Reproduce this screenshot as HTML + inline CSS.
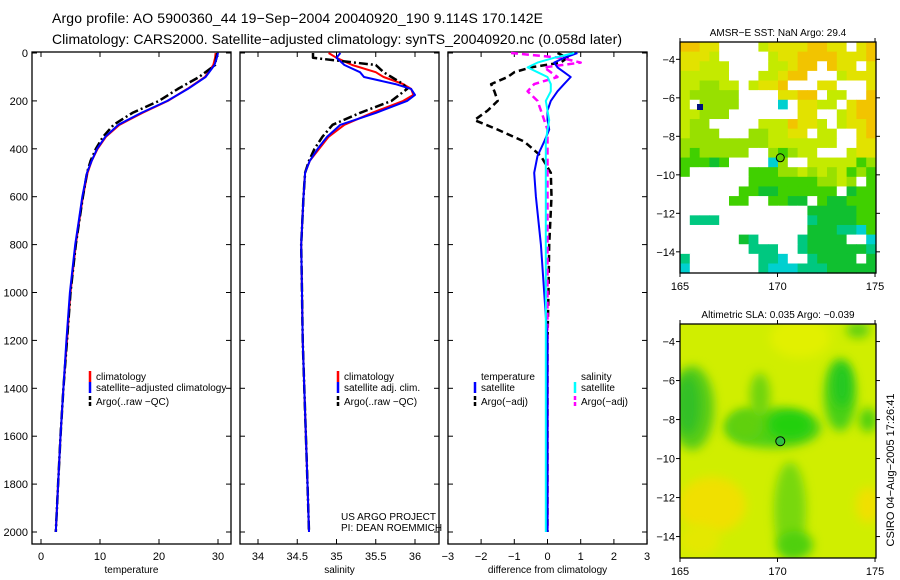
<!DOCTYPE html>
<html><head><meta charset="utf-8">
<style>
body{margin:0;background:#fff;}
svg{display:block;font-family:"Liberation Sans",sans-serif;}
</style></head>
<body>
<svg id="fig" width="900" height="580" viewBox="0 0 900 580" xmlns="http://www.w3.org/2000/svg">
<defs><filter id="bl" x="-50%" y="-50%" width="200%" height="200%"><feGaussianBlur stdDeviation="5"/></filter>
<clipPath id="m2c"><rect x="680" y="324" width="196" height="234"/></clipPath></defs>
<text x="52" y="23" font-size="14" textLength="491">Argo profile: AO 5900360_44 19−Sep−2004 20040920_190 9.114S 170.142E</text>
<text x="52" y="44" font-size="14" textLength="570">Climatology: CARS2000. Satellite−adjusted climatology: synTS_20040920.nc (0.058d later)</text>
<g id="plots"></g>
<g id="map1"></g>
<g id="map2"></g>
<text transform="translate(894,470) rotate(-90)" font-size="11" text-anchor="middle">CSIRO 04−Aug−2005 17:26:41</text>
</svg>
<script>
const depthT = [0,20,50,100,150,200,250,300,350,400,450,500,600,700,800,1000,1200,1400,1600,1800,2000];
const tempClim = [29.6,29.5,29.2,27.8,24.8,21.5,17.2,13.3,11,9.6,8.6,7.9,7.1,6.5,5.9,5.0,4.4,3.8,3.3,2.9,2.5];
const tempSat  = [30,29.8,29.4,27.9,24.9,21.4,17,13.1,10.9,9.5,8.6,7.8,7.0,6.4,5.8,4.9,4.3,3.8,3.3,2.9,2.5];
const tempArgo = [29.9,29.7,29.5,26.8,23.2,20,15.5,12.3,10.5,9.3,8.4,7.8,7.1,6.5,5.9,5.0,4.4,3.8,3.3,2.9,2.5];
const depthS = [0,20,50,80,100,130,150,175,200,250,300,350,400,450,500,600,800,1000,1200,1400,1600,1800,2000];
const salClim = [34.9,35.0,35.2,35.5,35.6,35.85,35.95,35.98,35.85,35.45,35.1,34.9,34.78,34.66,34.6,34.58,34.55,34.56,34.57,34.59,34.61,34.63,34.65];
const salSat  = [35.05,35.0,35.1,35.3,35.35,35.75,35.95,36.0,35.9,35.5,35.05,34.88,34.76,34.66,34.6,34.58,34.55,34.56,34.57,34.59,34.61,34.63,34.65];
const salArgo = [34.7,34.7,35.5,35.6,35.7,35.85,35.9,35.8,35.7,35.3,34.95,34.82,34.72,34.65,34.6,34.58,34.55,34.56,34.57,34.59,34.61,34.63,34.65];
const depthD = [0,20,40,60,80,100,130,160,200,240,280,320,370,430,500,600,800,1000,1200,1500,2000];
const diffTArgo = [0.3,0.6,0.4,-0.5,-1.0,-1.2,-1.7,-1.6,-1.5,-1.8,-2.2,-1.5,-0.7,-0.2,0.1,0.12,0.05,0.03,0.0,0.0,0.0];
const diffTSat  = [0.9,0.5,0.2,0.3,0.5,0.7,0.5,0.3,0.1,0.0,0.0,0.05,-0.1,-0.3,-0.4,-0.35,-0.2,-0.1,0.0,0.0,0.0];
const diffSSat  = [0.8,0.2,-0.3,-0.6,-0.3,0.0,0.1,0.1,-0.05,0.0,0.05,0.0,-0.05,-0.05,-0.05,-0.05,-0.05,-0.05,-0.05,-0.05,-0.05];
const diffSArgo = [-1.1,0.4,1.0,-0.1,0.1,0.3,-0.4,-0.6,-0.3,-0.2,-0.1,0.0,0.0,0.0,0.0,0.0,0.0,0.0,0.0,0.0,0.0];
const depthTicks = [0,200,400,600,800,1000,1200,1400,1600,1800,2000];
const tempTicks = [0,10,20,30];
const salTicks = [34,34.5,35,35.5,36];
const diffTicks = [-3,-2,-1,0,1,2,3];
const latTicks = [-4,-6,-8,-10,-12,-14];
const lonTicks = [165,170,175];

const NS="http://www.w3.org/2000/svg";
const plots=document.getElementById('plots');
function mk(tag,at,parent){const e=document.createElementNS(NS,tag);for(const k in at)e.setAttribute(k,at[k]);(parent||plots).appendChild(e);return e;}
const yD=d=>53+d*0.2395;
const panels=[
 {x0:32,x1:231,f:v=>41+v*5.9,ticks:tempTicks,title:'temperature',name:'temperature-panel'},
 {x0:240,x1:439,f:v=>258+(v-34)*78.5,ticks:salTicks,title:'salinity',name:'salinity-panel'},
 {x0:448,x1:647,f:v=>547.5+v*33.2,ticks:diffTicks,title:'difference from climatology',name:'difference-panel'}];
const yTop=52,yBot=544;
panels.forEach((p,i)=>{
 const g=mk('g',{});
 
 
 mk('rect',{x:p.x0,y:yTop,width:p.x1-p.x0,height:yBot-yTop,fill:'none',stroke:'#000','stroke-width':1.3},g);
 depthTicks.forEach(d=>{
  mk('line',{x1:p.x0,x2:p.x0+5,y1:yD(d),y2:yD(d),stroke:'#000'},g);
  mk('line',{x1:p.x1,x2:p.x1-5,y1:yD(d),y2:yD(d),stroke:'#000'},g);
 });
 p.ticks.forEach(v=>{
  const x=p.f(v);
  mk('line',{x1:x,x2:x,y1:yBot,y2:yBot-5,stroke:'#000'},g);
  mk('line',{x1:x,x2:x,y1:yTop,y2:yTop+5,stroke:'#000'},g);
  const t=mk('text',{x:x,y:560,'font-size':11,'text-anchor':'middle'},g);
  t.textContent=(i==2&&v<0)?'−'+Math.abs(v):String(v);
  
  
 });
 const tt=mk('text',{x:(p.x0+p.x1)/2,y:573,'font-size':10,'text-anchor':'middle'},g);
 tt.textContent=p.title;
 
 
});
depthTicks.forEach(d=>{
 const t=mk('text',{x:28,y:yD(d)+4,'font-size':11,'text-anchor':'end'});
 t.textContent=String(d);
 
 
});
function line(depths,vals,f,color,w,dash,name){
 const pts=depths.map((d,i)=>f(vals[i]).toFixed(1)+','+yD(d).toFixed(1)).join(' ');
 const e=mk('polyline',{points:pts,fill:'none',stroke:color,'stroke-width':w,'stroke-dasharray':dash||'none','stroke-linejoin':'round'});
 
 
}
const P=panels;
line(depthT,tempClim,P[0].f,'#f00',2,null,'temp-climatology-line');
line(depthT,tempArgo,P[0].f,'#000',2.5,'9 3 2 3','temp-argo-line');
line(depthT,tempSat,P[0].f,'#00f',2,null,'temp-satellite-line');
line(depthS,salClim,P[1].f,'#f00',2,null,'sal-climatology-line');
line(depthS,salArgo,P[1].f,'#000',2.5,'9 3 2 3','sal-argo-line');
line(depthS,salSat,P[1].f,'#00f',2,null,'sal-satellite-line');
line(depthD,diffTArgo,P[2].f,'#000',2.5,'7 4','diff-temp-argo-line');
line(depthD,diffSArgo,P[2].f,'#f0f',2.5,'7 4','diff-sal-argo-line');
line(depthD,diffTSat,P[2].f,'#00f',2,null,'diff-temp-satellite-line');
line(depthD,diffSSat,P[2].f,'#0ff',2,null,'diff-sal-satellite-line');

function leg(x,y,color,dash,label,name){
 const g=mk('g',{});
 
 
 if(color) mk('line',{x1:x,x2:x,y1:y-9,y2:y+2,stroke:color,'stroke-width':2.5,'stroke-dasharray':dash||'none'},g);
 const t=mk('text',{x:x+6,y:y,'font-size':10},g);t.textContent=label;
}
leg(90,380,'#f00',null,'climatology','legend-climatology');
leg(90,391,'#00f',null,'satellite−adjusted climatology','legend-satellite');
leg(90,405,'#000','4 2','Argo(..raw −QC)','legend-argo');
leg(338,380,'#f00',null,'climatology','legend-climatology-2');
leg(338,391,'#00f',null,'satellite adj. clim.','legend-satellite-2');
leg(338,405,'#000','4 2','Argo(..raw −QC)','legend-argo-2');
leg(475,380,null,null,'temperature','legend-temp-header');
leg(475,391,'#00f',null,'satellite','legend-temp-satellite');
leg(475,405,'#000','4 2','Argo(−adj)','legend-temp-argo');
leg(575,380,null,null,'salinity','legend-sal-header');
leg(575,391,'#0ff',null,'satellite','legend-sal-satellite');
leg(575,405,'#f0f','4 2','Argo(−adj)','legend-sal-argo');
[['US ARGO PROJECT',520],['PI: DEAN ROEMMICH',531]].forEach(a=>{const t=mk('text',{x:341,y:a[1],'font-size':10});t.textContent=a[0];});

// maps
const sstRows=[
"YYyywwwwlyyyyYYyywyY","yyylwwwwwlyyYYYYyyyY","yylllwwwwllyYYwYyywy","lllllwwwllyYYwwwlyyy",
"llLLllwlyyYwwwyywwwy","lLLLLLwwwwyyYYwllwwY","lwLLLLwwwwcwyyllwyYY","llLLLwwwwwwwyywwlyYY",
"lLLwwwwwlllYyylwlyyY","lLLLwwwLLllyywllwwyY","LLLLLLLLLlllllllwwyy","LgLLLLLwwLgLllwwwlyy",
"gggGgwwwwcLwwlllllgL","gwwwwwwgggLLlLlLlgLg","wwwwwwwgggggggLLlLwg","wwwwwwggGGggggggwGgg",
"wwwwwggwwggGGwgGGggg","wwwwwwwwwwwwwGGGGGgg","wtttwwwwwwwwwtGGGGgg","wwwwwwwwwwwwwGGGttcg",
"wwwwwwGtwwwwtGGGGwwc","wwwwwwwtttwwtGGGGGGt","twwwwwwwttcwwtGGGGwG","cwwwwwwwtccctttGGGGG"];
const colors={Y:'#f2c400',y:'#e2e200',l:'#c4ea00',L:'#98e000',g:'#40d000',G:'#10c030',t:'#00c880',c:'#00d0d0',w:'#ffffff'};
function mapFrame(g,x0,y0,w,h,latTop,latBot,title){
 const yl=l=>y0+(latTop-l)/(latTop-latBot)*h, xl=o=>x0+(o-165)/10.05*w;
 mk('rect',{x:x0,y:y0,width:w,height:h,fill:'none',stroke:'#000','stroke-width':1.3},g);
 latTicks.forEach(l=>{const y=yl(l);mk('line',{x1:x0-4,x2:x0,y1:y,y2:y,stroke:'#000'},g);mk('line',{x1:x0+w,x2:x0+w+4,y1:y,y2:y,stroke:'#000'},g);
  const t=mk('text',{x:x0-5,y:y+4,'font-size':11,'text-anchor':'end'},g);t.textContent='−'+Math.abs(l);});
 lonTicks.forEach(o=>{const x=xl(o);mk('line',{x1:x,x2:x,y1:y0-4,y2:y0,stroke:'#000'},g);mk('line',{x1:x,x2:x,y1:y0+h,y2:y0+h+4,stroke:'#000'},g);
  const t=mk('text',{x:x,y:y0+h+17,'font-size':11,'text-anchor':'middle'},g);t.textContent=o;});
 const t=mk('text',{x:x0+w/2,y:y0-6,'font-size':10,'text-anchor':'middle'},g);t.textContent=title;
 return {xl,yl};
}
const m1=document.getElementById('map1');
sstRows.forEach((r,ri)=>{for(let ci=0;ci<20;ci++){mk('rect',{x:680+ci*9.8,y:42+ri*9.63,width:10.3,height:10.1,fill:colors[r[ci]]},m1);}});
mk('rect',{x:697,y:104,width:6,height:6,fill:'#001080'},m1);
const a1=mapFrame(m1,680,42,196,231,-3.1,-15.1,'AMSR−E SST: NaN Argo: 29.4');
mk('circle',{cx:a1.xl(170.142),cy:a1.yl(-9.114),r:4,fill:'#60d000',stroke:'#000'},m1);
const m2=document.getElementById('map2');
const cg=mk('g',{'clip-path':'url(#m2c)'},m2);
mk('rect',{x:680,y:324,width:196,height:234,fill:'#d0ee00'},cg);
const blobs=[
 [692,408,22,42,'#58cc18'],[688,405,12,30,'#30c028'],
 [773,428,48,20,'#50d018'],[790,425,22,14,'#20d010'],[745,425,18,16,'#60d010'],[760,395,10,22,'#70d410'],
 [840,395,16,36,'#48d018'],[842,385,9,22,'#20c820'],[868,420,9,12,'#50d010'],[858,330,12,8,'#60d010'],
 [790,510,16,48,'#78d810'],[795,545,18,14,'#50d010'],
 [712,505,34,28,'#f0e000'],[700,540,20,16,'#e4e800'],[868,505,12,18,'#f0e000'],[800,338,30,20,'#e2f000']];
blobs.forEach(b=>mk('ellipse',{cx:b[0],cy:b[1],rx:b[2],ry:b[3],fill:b[4],filter:'url(#bl)'},cg));
const a2=mapFrame(m2,680,324,196,234,-3.1,-15.1,'Altimetric SLA: 0.035 Argo: −0.039');
mk('circle',{cx:a2.xl(170.142),cy:a2.yl(-9.114),r:4.5,fill:'#30c040',stroke:'#000'},m2);
</script>
</body></html>
